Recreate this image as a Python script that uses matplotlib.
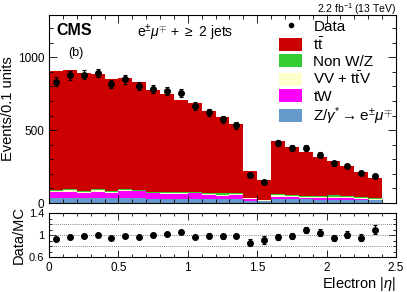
import numpy as np
import matplotlib
matplotlib.use('Agg')
import matplotlib.pyplot as plt
from matplotlib.patches import Patch
from matplotlib.lines import Line2D

plt.rcParams['font.family'] = ['Liberation Sans', 'DejaVu Sans']
plt.rcParams['mathtext.fontset'] = 'custom'
plt.rcParams['mathtext.rm'] = 'Liberation Sans'
plt.rcParams['mathtext.it'] = 'Liberation Sans:italic'
plt.rcParams['mathtext.bf'] = 'Liberation Sans:bold'

# binning in electron |eta|
edges = [0.0, 0.1, 0.2, 0.3, 0.4, 0.5, 0.6, 0.7, 0.8, 0.9, 1.0, 1.1, 1.2,
         1.3, 1.4, 1.5, 1.6, 1.7, 1.8, 1.9, 2.0, 2.1, 2.2, 2.3, 2.4]

# data
data = [833, 877, 881, 892, 815, 849, 801, 783, 767, 752, 664, 623,
        573, 532, 190, 144, 409, 379, 379, 331, 272, 253, 203, 185]

# simulation, stacked bottom -> top
zg = [33, 33, 32, 33, 31, 33, 33, 30, 30, 30, 30, 29,
      28, 26, 17, 11, 26, 25, 25, 24, 24, 23, 22, 20]
tw = [45, 45, 39, 45, 37, 49, 47, 36, 29, 29, 36, 28,
      22, 29, 10, 5, 17, 14, 9, 8, 10, 9, 8, 3]
vv = [7, 8, 7, 8, 7, 8, 5, 6, 7, 7, 6, 7,
      8, 7, 5, 2, 9, 8, 8, 8, 10, 7, 6, 6]
nonwz = [6, 8, 6, 8, 7, 8, 4, 6, 7, 7, 6, 7,
         8, 6, 5, 2, 10, 8, 8, 8, 11, 7, 5, 5]
tt = [815, 817, 808, 790, 772, 763, 744, 698, 678, 637, 609, 559,
      523, 473, 184, 138, 363, 331, 299, 269, 231, 205, 173, 135]

edges = np.array(edges)
centers = 0.5 * (edges[:-1] + edges[1:])
data = np.array(data, dtype=float)
err = np.sqrt(data)

stack = [(zg, '#6699cc', r'Z/$\gamma^{*}$$\rightarrow$e$^{\pm}\mu^{\mp}$'),
         (tw, '#ff00ff', 'tW'),
         (vv, '#ffffcc', r'VV + t$\bar{\mathrm{t}}$V'),
         (nonwz, '#33cc33', 'Non W/Z'),
         (tt, '#cc0000', r't$\bar{\mathrm{t}}$')]

fig = plt.figure(figsize=(4.07, 2.92), dpi=100)
ax = fig.add_axes([49/407, 1-203/292, 347/407, 188/292])
rax = fig.add_axes([49/407, 1-257/292, 347/407, 44/292])

bottom = np.zeros(len(centers))
for vals, col, lab in stack:
    vals = np.array(vals, dtype=float)
    ax.stairs(bottom + vals, edges, baseline=bottom, fill=True, color=col, lw=0)
    bottom = bottom + vals
mc = bottom

ax.errorbar(centers, data, yerr=err, fmt='o', color='black', ms=4,
            elinewidth=0.9, capsize=1.2, capthick=0.8)

ax.set_xlim(0, 2.5)
ax.set_ylim(0, 1290)
ax.set_yticks([0, 500, 1000])
ax.set_yticks(np.arange(0, 1290, 100), minor=True)
ax.set_xticks([0, 0.5, 1, 1.5, 2, 2.5])
ax.set_xticks(np.arange(0, 2.5, 0.1), minor=True)
ax.set_xticklabels([])
ax.tick_params(which='both', direction='in', top=True, right=True, labelsize=8.5)
ax.tick_params(which='major', length=6, width=0.6)
ax.tick_params(which='minor', length=3, width=0.6)
ax.set_ylabel('Events/0.1 units', fontsize=10.5, labelpad=2)
for s in ax.spines.values():
    s.set_linewidth(0.8)
# nudge the "0" label up a little so it clears the ratio panel
for lbl in ax.get_yticklabels():
    lbl.set_verticalalignment('center_baseline')

ax.text(0.022, 0.96, 'CMS', transform=ax.transAxes, fontsize=11.5,
        fontweight='bold', va='top')
ax.text(0.055, 0.83, '(b)', transform=ax.transAxes, fontsize=9, va='top')
ax.text(0.255, 0.96, r'e$^{\pm}\mu^{\mp}$ + $\geq$ 2 jets', transform=ax.transAxes,
        fontsize=10, va='top')
ax.text(1.0, 1.012, r'2.2 fb$^{-1}$ (13 TeV)', transform=ax.transAxes,
        fontsize=7.5, ha='right', va='baseline')

handles = [Line2D([], [], marker='o', color='black', ls='none', ms=3)]
labels = ['Data']
for vals, col, lab in stack[::-1]:
    handles.append(Patch(facecolor=col, edgecolor='none'))
    labels.append(lab)
ax.legend(handles, labels, loc='upper left', bbox_to_anchor=(0.64, 1.02),
          frameon=False, fontsize=11, handlelength=1.5, handleheight=0.92,
          labelspacing=0.1, handletextpad=0.72, borderaxespad=0.15)

# ratio panel
ratio = data / mc
rerr = err / mc
rax.errorbar(centers, ratio, yerr=rerr, fmt='o', color='black', ms=4,
             elinewidth=0.9, capsize=1.2, capthick=0.8)
for yy in [0.8, 1.0, 1.2]:
    rax.axhline(yy, color='0.35', lw=0.6, ls=(0, (1, 1.5)))
rax.set_xlim(0, 2.5)
rax.set_ylim(0.6, 1.4)
rax.set_yticks([0.6, 1, 1.4])
rax.set_yticklabels(['0.6', '1', '1.4'])
rax.set_yticks(np.arange(0.6, 1.41, 0.1), minor=True)
rax.set_xticks([0, 0.5, 1, 1.5, 2, 2.5])
rax.set_xticklabels(['0', '0.5', '1', '1.5', '2', '2.5'])
rax.set_xticks(np.arange(0, 2.5, 0.1), minor=True)
rax.tick_params(which='both', direction='in', top=True, right=True, labelsize=8.5)
rax.tick_params(axis='y', labelsize=8)
rax.tick_params(which='major', length=5, width=0.6)
rax.tick_params(which='minor', length=2.5, width=0.6)
rax.set_ylabel('Data/MC', fontsize=10.5, labelpad=2)
rax.set_xlabel(r'Electron |$\eta$|', fontsize=10.5, loc='right', labelpad=1)
for s in rax.spines.values():
    s.set_linewidth(0.8)

fig.savefig('out.png', dpi=100)
